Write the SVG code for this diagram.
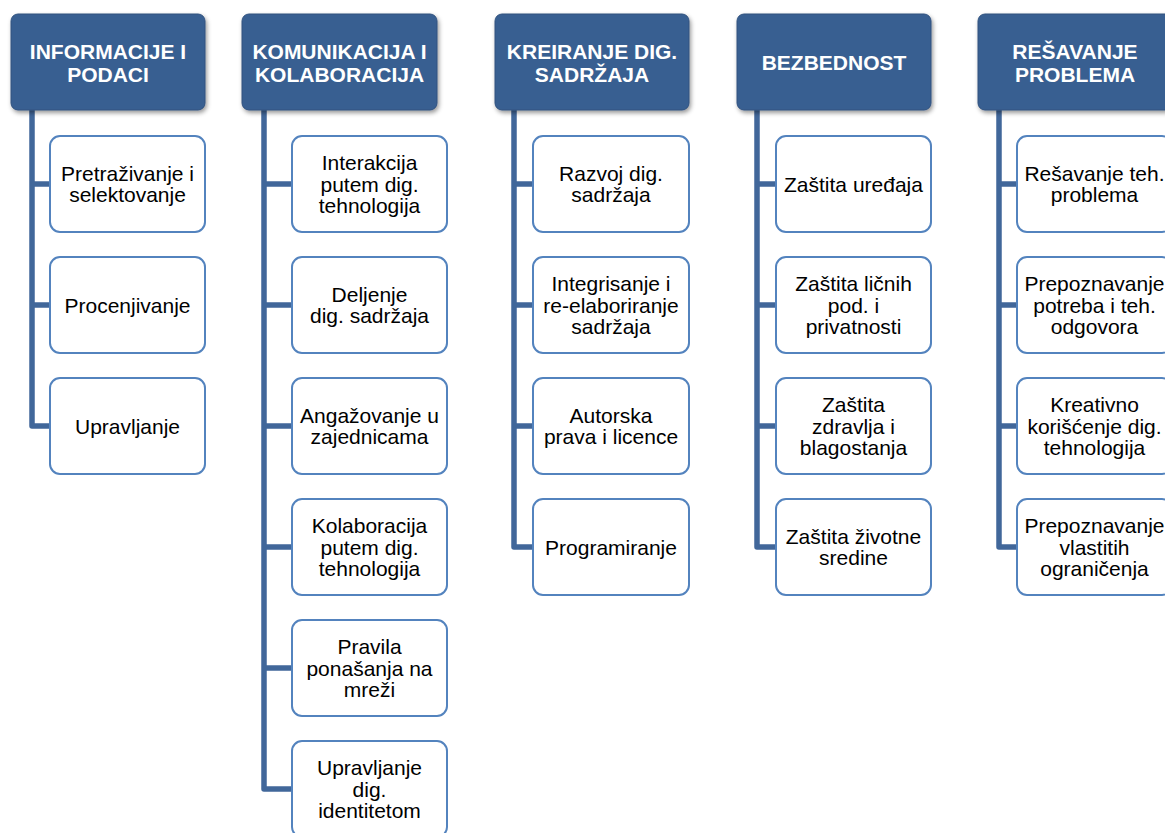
<svg xmlns="http://www.w3.org/2000/svg" width="1165" height="833" viewBox="0 0 1165 833">
<defs>
<filter id="sh" x="-10%" y="-10%" width="125%" height="130%">
<feDropShadow dx="1.5" dy="2.5" stdDeviation="2" flood-color="#000" flood-opacity="0.4"/>
</filter>
<style>
.hd{fill:#385E91;stroke:#30527F;stroke-width:1;filter:url(#sh)}
.ht{font-family:"Liberation Sans",Arial,sans-serif;font-weight:bold;font-size:21px;fill:#fff;text-anchor:middle}
.bx{fill:#fff;stroke:#5383BE;stroke-width:2}
.bt{font-family:"Liberation Sans",Arial,sans-serif;font-size:21px;fill:#000;text-anchor:middle}
.cn{fill:none;stroke:#41679A;stroke-width:5.5;stroke-linejoin:round}
</style>
</defs>
<rect width="1165" height="833" fill="#fff"/>
<g id="connectors">
<path class="cn" d="M32 110V426H50M32 184H50M32 305H50"/>
<path class="cn" d="M264 110V789H292M264 184H292M264 305H292M264 426H292M264 547H292M264 668H292"/>
<path class="cn" d="M514 110V547H533M514 184H533M514 305H533M514 426H533"/>
<path class="cn" d="M757 110V547H776M757 184H776M757 305H776M757 426H776"/>
<path class="cn" d="M999 110V547H1017M999 184H1017M999 305H1017M999 426H1017"/>
</g>
<g id="h1"><rect class="hd" x="11" y="14" width="194" height="96" rx="7"/><text class="ht" x="108" y="58.5">INFORMACIJE I</text><text class="ht" x="108" y="81.5">PODACI</text></g>
<g id="h2"><rect class="hd" x="242" y="14" width="195" height="96" rx="7"/><text class="ht" x="339.5" y="58.5">KOMUNIKACIJA I</text><text class="ht" x="339.5" y="81.5">KOLABORACIJA</text></g>
<g id="h3"><rect class="hd" x="495" y="14" width="194" height="96" rx="7"/><text class="ht" x="592" y="58.5">KREIRANJE DIG.</text><text class="ht" x="592" y="81.5">SADRŽAJA</text></g>
<g id="h4"><rect class="hd" x="737" y="14" width="194" height="96" rx="7"/><text class="ht" x="834" y="69.5">BEZBEDNOST</text></g>
<g id="h5"><rect class="hd" x="978" y="14" width="194" height="96" rx="7"/><text class="ht" x="1075" y="58.5">REŠAVANJE</text><text class="ht" x="1075" y="81.5">PROBLEMA</text></g>

<g id="c1-1"><rect class="bx" x="50" y="136" width="155" height="96" rx="10"/><text class="bt" x="127.5" y="180.75">Pretraživanje i</text><text class="bt" x="127.5" y="202.25">selektovanje</text></g>
<g id="c1-2"><rect class="bx" x="50" y="257" width="155" height="96" rx="10"/><text class="bt" x="127.5" y="312.5">Procenjivanje</text></g>
<g id="c1-3"><rect class="bx" x="50" y="378" width="155" height="96" rx="10"/><text class="bt" x="127.5" y="433.5">Upravljanje</text></g>

<g id="c2-1"><rect class="bx" x="292" y="136" width="155" height="96" rx="10"/><text class="bt" x="369.5" y="170">Interakcija</text><text class="bt" x="369.5" y="191.5">putem dig.</text><text class="bt" x="369.5" y="213">tehnologija</text></g>
<g id="c2-2"><rect class="bx" x="292" y="257" width="155" height="96" rx="10"/><text class="bt" x="369.5" y="301.75">Deljenje</text><text class="bt" x="369.5" y="323.25">dig. sadržaja</text></g>
<g id="c2-3"><rect class="bx" x="292" y="378" width="155" height="96" rx="10"/><text class="bt" x="369.5" y="422.75">Angažovanje u</text><text class="bt" x="369.5" y="444.25">zajednicama</text></g>
<g id="c2-4"><rect class="bx" x="292" y="499" width="155" height="96" rx="10"/><text class="bt" x="369.5" y="533">Kolaboracija</text><text class="bt" x="369.5" y="554.5">putem dig.</text><text class="bt" x="369.5" y="576">tehnologija</text></g>
<g id="c2-5"><rect class="bx" x="292" y="620" width="155" height="96" rx="10"/><text class="bt" x="369.5" y="654">Pravila</text><text class="bt" x="369.5" y="675.5">ponašanja na</text><text class="bt" x="369.5" y="697">mreži</text></g>
<g id="c2-6"><rect class="bx" x="292" y="741" width="155" height="96" rx="10"/><text class="bt" x="369.5" y="775">Upravljanje</text><text class="bt" x="369.5" y="796.5">dig.</text><text class="bt" x="369.5" y="818">identitetom</text></g>

<g id="c3-1"><rect class="bx" x="533" y="136" width="156" height="96" rx="10"/><text class="bt" x="611" y="180.75">Razvoj dig.</text><text class="bt" x="611" y="202.25">sadržaja</text></g>
<g id="c3-2"><rect class="bx" x="533" y="257" width="156" height="96" rx="10"/><text class="bt" x="611" y="291">Integrisanje i</text><text class="bt" x="611" y="312.5">re-elaboriranje</text><text class="bt" x="611" y="334">sadržaja</text></g>
<g id="c3-3"><rect class="bx" x="533" y="378" width="156" height="96" rx="10"/><text class="bt" x="611" y="422.75">Autorska</text><text class="bt" x="611" y="444.25">prava i licence</text></g>
<g id="c3-4"><rect class="bx" x="533" y="499" width="156" height="96" rx="10"/><text class="bt" x="611" y="554.5">Programiranje</text></g>

<g id="c4-1"><rect class="bx" x="776" y="136" width="155" height="96" rx="10"/><text class="bt" x="853.5" y="191.5">Zaštita uređaja</text></g>
<g id="c4-2"><rect class="bx" x="776" y="257" width="155" height="96" rx="10"/><text class="bt" x="853.5" y="291">Zaštita ličnih</text><text class="bt" x="853.5" y="312.5">pod. i</text><text class="bt" x="853.5" y="334">privatnosti</text></g>
<g id="c4-3"><rect class="bx" x="776" y="378" width="155" height="96" rx="10"/><text class="bt" x="853.5" y="412">Zaštita</text><text class="bt" x="853.5" y="433.5">zdravlja i</text><text class="bt" x="853.5" y="455">blagostanja</text></g>
<g id="c4-4"><rect class="bx" x="776" y="499" width="155" height="96" rx="10"/><text class="bt" x="853.5" y="543.75">Zaštita životne</text><text class="bt" x="853.5" y="565.25">sredine</text></g>

<g id="c5-1"><rect class="bx" x="1017" y="136" width="155" height="96" rx="10"/><text class="bt" x="1094.5" y="180.75">Rešavanje teh.</text><text class="bt" x="1094.5" y="202.25">problema</text></g>
<g id="c5-2"><rect class="bx" x="1017" y="257" width="155" height="96" rx="10"/><text class="bt" x="1094.5" y="291">Prepoznavanje</text><text class="bt" x="1094.5" y="312.5">potreba i teh.</text><text class="bt" x="1094.5" y="334">odgovora</text></g>
<g id="c5-3"><rect class="bx" x="1017" y="378" width="155" height="96" rx="10"/><text class="bt" x="1094.5" y="412">Kreativno</text><text class="bt" x="1094.5" y="433.5">korišćenje dig.</text><text class="bt" x="1094.5" y="455">tehnologija</text></g>
<g id="c5-4"><rect class="bx" x="1017" y="499" width="155" height="96" rx="10"/><text class="bt" x="1094.5" y="533">Prepoznavanje</text><text class="bt" x="1094.5" y="554.5">vlastitih</text><text class="bt" x="1094.5" y="576">ograničenja</text></g>
</svg>
